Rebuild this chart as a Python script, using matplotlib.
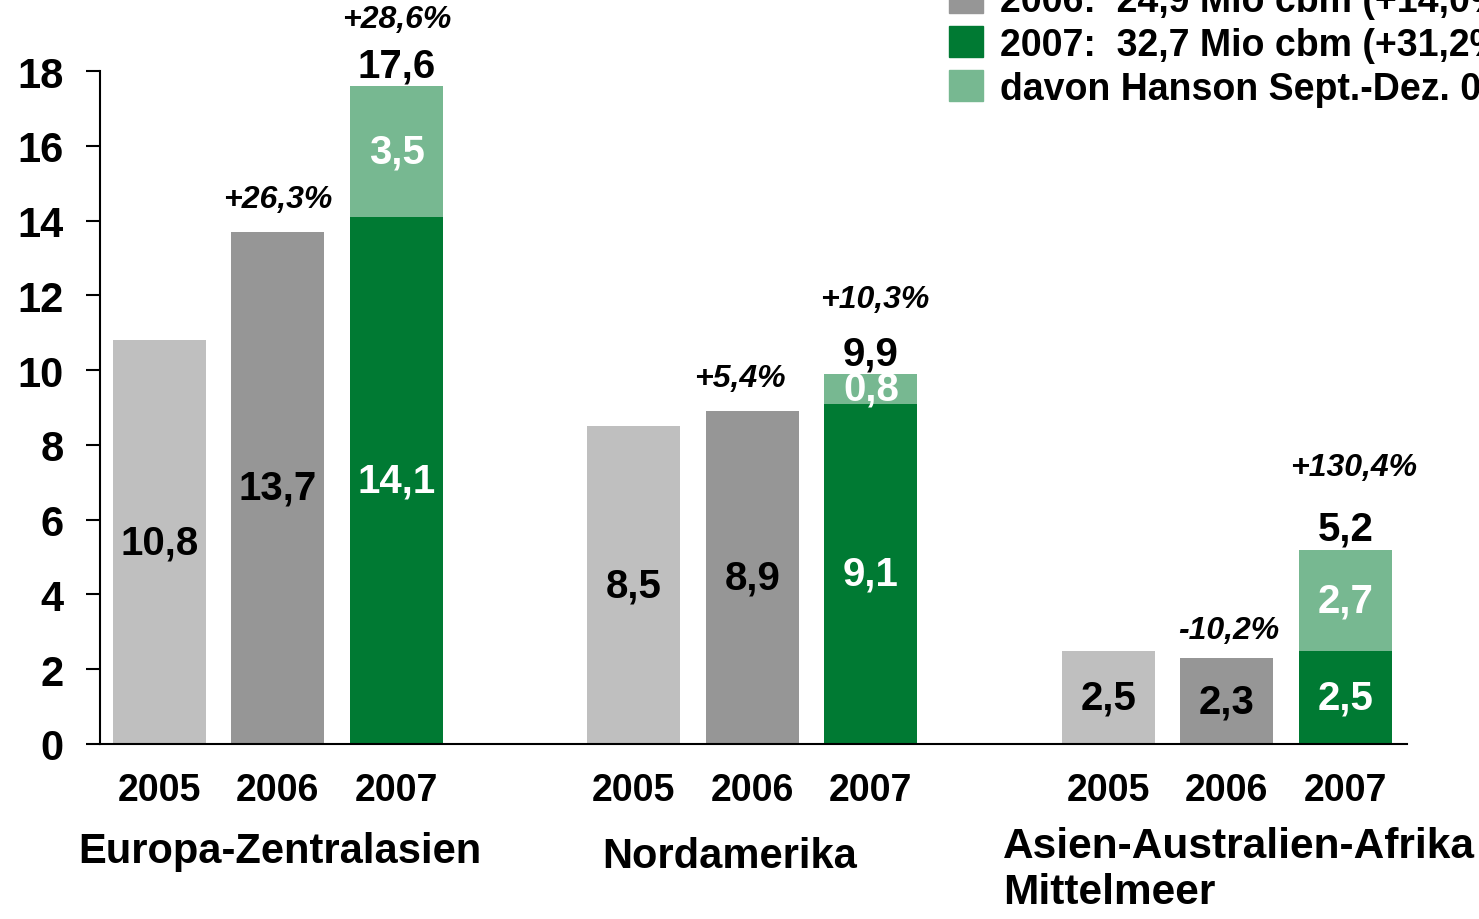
import matplotlib
matplotlib.use("Agg")
import matplotlib.pyplot as plt
from matplotlib.patches import Patch

plt.rcParams['font.family'] = ['Liberation Sans', 'DejaVu Sans']
plt.rcParams['font.weight'] = 'bold'

regions = ["Europa-Zentralasien", "Nordamerika", "Asien-Australien-Afrika\nMittelmeer"]
years = ["2005", "2006", "2007"]
v2005 = [10.8, 8.5, 2.5]
v2006 = [13.7, 8.9, 2.3]
v2007_base = [14.1, 9.1, 2.5]
v2007_hanson = [3.5, 0.8, 2.7]
v2007_total = [17.6, 9.9, 5.2]
pct2006 = ["+26,3%", "+5,4%", "-10,2%"]
pct2007 = ["+28,6%", "+10,3%", "+130,4%"]
legend_labels = ["2006:  24,9 Mio cbm (+14,0%)", "2007:  32,7 Mio cbm (+31,2%)",
                 "davon Hanson Sept.-Dez. 07"]

def fmt(v):
    return f"{v:.1f}".replace(".", ",")

c05, c06, c07, cH = "#BFBFBF", "#969696", "#007A33", "#77B891"

W, H = 1479, 920
fig = plt.figure(figsize=(W / 100, H / 100), dpi=100)
ax = fig.add_axes([100 / W, 175 / H, 1307 / W, 673 / H])

gx = [0, 4, 8]
x05 = [g + 0 for g in gx]
x06 = [g + 1 for g in gx]
x07 = [g + 2 for g in gx]
bw = 0.785

ax.bar(x05, v2005, bw, color=c05)
ax.bar(x06, v2006, bw, color=c06)
ax.bar(x07, v2007_base, bw, color=c07)
ax.bar(x07, v2007_hanson, bw, bottom=v2007_base, color=cH)

ax.set_xlim(-0.50, 10.52)
ax.set_ylim(0, 18)
ax.set_yticks(range(0, 19, 2))
for s in ["top", "right"]:
    ax.spines[s].set_visible(False)
for s in ["left", "bottom"]:
    ax.spines[s].set_linewidth(1.5)
ax.tick_params(axis="y", length=10, width=1.5, pad=16, labelsize=30)
ax.set_xticks(x05 + x06 + x07)
ax.set_xticklabels(years[0:1] * 3 + years[1:2] * 3 + years[2:3] * 3)
ax.tick_params(axis="x", length=0, pad=20, labelsize=27)

vfs = 29
for i in range(3):
    ax.text(x05[i], v2005[i] / 2, fmt(v2005[i]), ha="center", va="center", fontsize=vfs, color="black")
    ax.text(x06[i], v2006[i] / 2, fmt(v2006[i]), ha="center", va="center", fontsize=vfs, color="black")
    ax.text(x07[i], v2007_base[i] / 2, fmt(v2007_base[i]), ha="center", va="center", fontsize=vfs, color="white")
    ax.text(x07[i], v2007_base[i] + v2007_hanson[i] / 2, fmt(v2007_hanson[i]), ha="center", va="center",
            fontsize=vfs, color="white")
    ax.annotate(fmt(v2007_total[i]), (x07[i], v2007_total[i]), xytext=(0, 15), textcoords="offset points",
                ha="center", va="center", fontsize=vfs)

tot_off = [47, 55, 63]
p06_off = [33, 33, 28]
p06_dx = [0, -12, 2]
p07_dx = [0, 4, 8]
for i in range(3):
    ax.annotate(pct2006[i], (x06[i], v2006[i]), xytext=(p06_dx[i] * 0.72, p06_off[i] * 0.72),
                textcoords="offset points", ha="center", va="center", fontsize=23, style="italic")
    ax.annotate(pct2007[i], (x07[i], v2007_total[i]), xytext=(p07_dx[i] * 0.72, (20 + tot_off[i]) * 0.72),
                textcoords="offset points", ha="center", va="center", fontsize=23, style="italic")

ax.text(279.5 / W, 1 - 852 / H, regions[0], transform=fig.transFigure, ha="center", va="center", fontsize=30)
ax.text(730 / W, 1 - 857 / H, regions[1], transform=fig.transFigure, ha="center", va="center", fontsize=30)
ax.text(1003 / W, 1 - 827 / H, regions[2], transform=fig.transFigure, ha="left", va="top", fontsize=30.5,
        linespacing=1.2)

handles = [Patch(color=c06), Patch(color=c07), Patch(color=cH)]
fig.legend(handles, legend_labels, loc="upper left", bbox_to_anchor=(923 / W, 1 + 43 / H),
           frameon=False, fontsize=27, handlelength=0.9, handleheight=0.9, handletextpad=0.45,
           labelspacing=0.2, borderpad=0.2)

fig.savefig("out.png", dpi=100)
